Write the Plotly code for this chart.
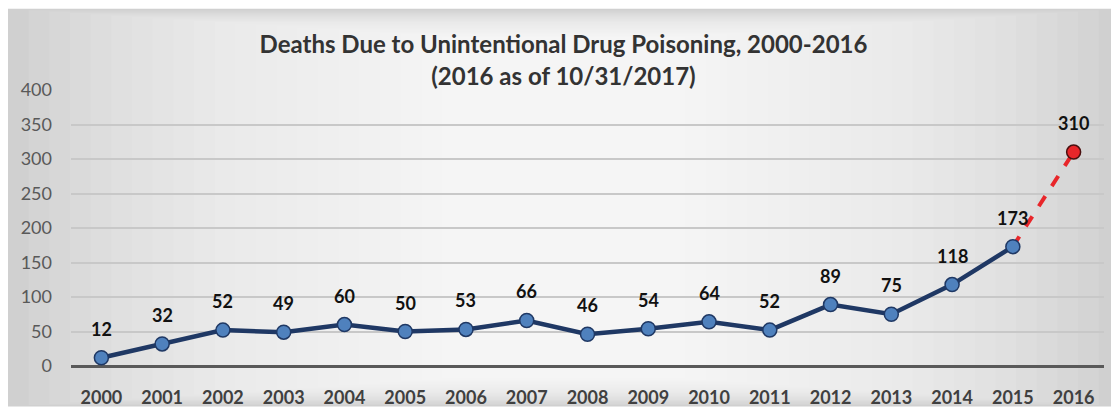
import plotly.graph_objects as go

# data
years = [str(y) for y in range(2000, 2017)]
deaths = [12, 32, 52, 49, 60, 50, 53, 66, 46, 54, 64, 52, 89, 75, 118, 173, 310]
y_ticks = [0, 50, 100, 150, 200, 250, 300, 350, 400]

FONT = "Lato"
NAVY = "#1f3864"
BLUE = "#4f81bd"
RED = "#e8262a"

fig = go.Figure()

# dashed projection segment 2015 -> 2016
fig.add_trace(go.Scatter(
    x=years[-2:], y=deaths[-2:],
    mode="lines",
    line=dict(color=RED, width=4, dash="dash"),
    hoverinfo="skip"
))

# main series 2000-2015
fig.add_trace(go.Scatter(
    x=years[:-1], y=deaths[:-1],
    mode="lines+markers",
    line=dict(color=NAVY, width=4.5),
    marker=dict(size=14, color=BLUE, line=dict(color=NAVY, width=1.5)),
))

# 2016 point
fig.add_trace(go.Scatter(
    x=years[-1:], y=deaths[-1:],
    mode="markers",
    marker=dict(size=14, color=RED, line=dict(color="#4a1010", width=1.5)),
))

# data labels (category index used for x so "2000" isn't read as a position)
annotations = [
    dict(x=i, y=v, text=str(v), showarrow=False, yanchor="middle", yshift=29,
         font=dict(family=FONT, size=18, color="#111111", weight="bold"))
    for i, v in enumerate(deaths)
]

# panel background with soft gradient
# (page body adds an 8px offset, so the figure is 8px smaller than the window)
PX0, PX1, PY0, PY1 = -0.061, 1.015, -0.147, 1.294
shapes = [dict(type="rect", xref="paper", yref="paper",
               x0=PX0, x1=PX1, y0=PY0, y1=PY1,
               fillcolor="#d0d0d0", line=dict(width=0), layer="below")]
steps = 24
for i in range(1, steps + 1):
    f = i / (steps + 1)
    shapes.append(dict(type="rect", xref="paper", yref="paper",
                       x0=PX0 + f * 0.5, x1=PX1 - f * 0.5,
                       y0=PY0 + f * 0.12, y1=PY1 - f * 0.12,
                       fillcolor="rgba(255,255,255,0.09)",
                       line=dict(width=0), layer="below"))

fig.update_layout(
    width=1111, height=412,
    margin=dict(l=63, r=15, t=82, b=51),
    paper_bgcolor="white",
    plot_bgcolor="rgba(0,0,0,0)",
    showlegend=False,
    shapes=shapes,
    annotations=annotations,
    title=dict(
        text="Deaths Due to Unintentional Drug Poisoning, 2000-2016<br>(2016 as of 10/31/2017)",
        x=0.5, xanchor="center", y=0.89, yanchor="top",
        font=dict(family=FONT, size=24, color="#333333", weight="bold"),
    ),
    xaxis=dict(
        type="category", categoryorder="array", categoryarray=years,
        tickfont=dict(family=FONT, size=18, color="#404040", weight="bold"),
        showgrid=False, ticks="", showline=False,
        range=[-0.5, 16.5], ticklabelstandoff=19,
    ),
    yaxis=dict(
        range=[0, 400], tickvals=y_ticks,
        tickfont=dict(family=FONT, size=18, color="#595959"),
        showgrid=True, gridcolor="#c8c8c8", gridwidth=1.5,
        zeroline=True, zerolinecolor="#595959", zerolinewidth=3,
        ticks="", ticklabelstandoff=18,
    ),
)

fig.write_html("out.html")
